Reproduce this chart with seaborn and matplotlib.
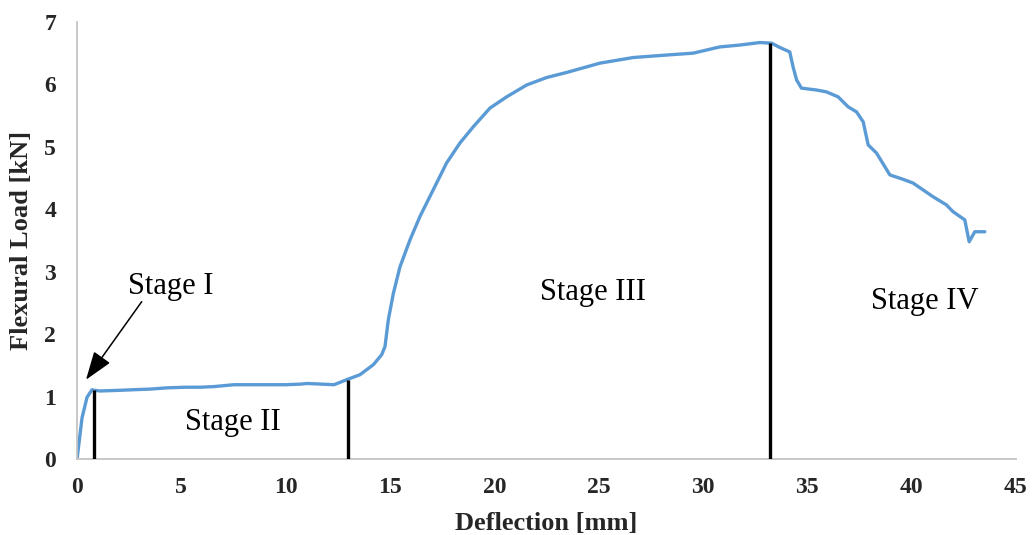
import matplotlib
matplotlib.use("Agg")
import matplotlib.pyplot as plt
import seaborn as sns
import pandas as pd

# ---- data ----
deflection = [0, 0.24, 0.48, 0.72, 0.83, 1.12, 2.0, 2.72, 3.5, 4.32, 5.2, 5.92,
              6.56, 7.52, 8.3, 9.12, 10.0, 10.72, 11.04, 11.7, 12.32, 12.92, 13.56,
              14.20, 14.60, 14.76, 14.92, 15.16, 15.48, 15.96, 16.43, 17.07, 17.71,
              18.35, 18.99, 19.79, 20.59, 21.55, 22.51, 23.46, 25.06, 26.66, 28.26,
              29.53, 30.81, 31.77, 32.73, 33.29, 33.69, 34.16, 34.32, 34.49, 34.72,
              35.44, 35.92, 36.48, 36.96, 37.36, 37.68, 37.92, 38.32, 38.96, 39.59,
              40.07, 41.03, 41.67, 41.99, 42.55, 42.76, 43.03, 43.51]
load = [0, 0.66, 0.99, 1.11, 1.10, 1.09, 1.10, 1.11, 1.12, 1.14, 1.15, 1.15,
        1.16, 1.19, 1.19, 1.19, 1.19, 1.20, 1.21, 1.20, 1.19, 1.27, 1.35,
        1.51, 1.67, 1.80, 2.23, 2.65, 3.08, 3.51, 3.88, 4.31, 4.74,
        5.06, 5.32, 5.62, 5.80, 5.99, 6.11, 6.19, 6.34, 6.43, 6.47,
        6.50, 6.60, 6.63, 6.67, 6.66, 6.59, 6.52, 6.28, 6.07, 5.94,
        5.91, 5.88, 5.80, 5.64, 5.56, 5.40, 5.03, 4.90, 4.55, 4.48,
        4.42, 4.20, 4.07, 3.96, 3.83, 3.48, 3.64, 3.64]

stage_bounds_x = [0.83, 13.0, 33.22]
stage_bounds_top = [1.11, 1.27, 6.67]

stage_labels = ["Stage I", "Stage II", "Stage III", "Stage IV"]
stage_label_x = [4.49, 7.47, 24.74, 40.63]
stage_label_y = [2.76, 0.58, 2.66, 2.53]

x_ticks = [0, 5, 10, 15, 20, 25, 30, 35, 40, 45]
y_ticks = [0, 1, 2, 3, 4, 5, 6, 7]

df = pd.DataFrame({"Deflection": deflection, "Load": load})

sns.set_style("white")
plt.rcParams["font.family"] = ["Liberation Serif", "DejaVu Serif"]

fig = plt.figure(figsize=(10.34, 5.35), dpi=100)
ax = fig.add_axes([0.0745, 0.142, 0.908, 0.817])

sns.lineplot(data=df, x="Deflection", y="Load", ax=ax, sort=False,
             color="#5B9BD5", linewidth=2.4, solid_joinstyle="round",
             solid_capstyle="round")

ax.vlines(stage_bounds_x, 0, stage_bounds_top, colors="black", linewidth=2.4, zorder=3)

ax.set_xlim(0, 45)
ax.set_ylim(0, 7)
ax.set_xticks(x_ticks)
ax.set_yticks(y_ticks)
ax.set_xticklabels([str(t) for t in x_ticks], fontsize=17, fontweight="bold")
ax.set_yticklabels([str(t) for t in y_ticks], fontsize=17, fontweight="bold")
ax.tick_params(axis="x", length=0, pad=13)
ax.tick_params(axis="y", length=0, pad=15)

ax.set_xlabel("Deflection [mm]", fontsize=19, fontweight="bold")
ax.set_ylabel("Flexural Load [kN]", fontsize=19, fontweight="bold")
ax.xaxis.set_label_coords(0.5, -0.122)
ax.yaxis.set_label_coords(-0.047, 0.5)

for side in ["top", "right"]:
    ax.spines[side].set_visible(False)
for side in ["left", "bottom"]:
    ax.spines[side].set_color("#C4C4C4")
    ax.spines[side].set_linewidth(1.3)
ax.grid(False)

for lab, lx, ly in zip(stage_labels, stage_label_x, stage_label_y):
    ax.text(lx, ly, lab, fontsize=22, ha="center", va="center", color="black")

ax.annotate("", xy=(0.43, 1.27), xytext=(3.10, 2.52),
            arrowprops=dict(arrowstyle="-|>,head_length=0.8,head_width=0.28",
                            color="black", lw=1.1,
                            mutation_scale=22, shrinkA=0, shrinkB=0))

fig.savefig("out.png", dpi=100, facecolor="white")
